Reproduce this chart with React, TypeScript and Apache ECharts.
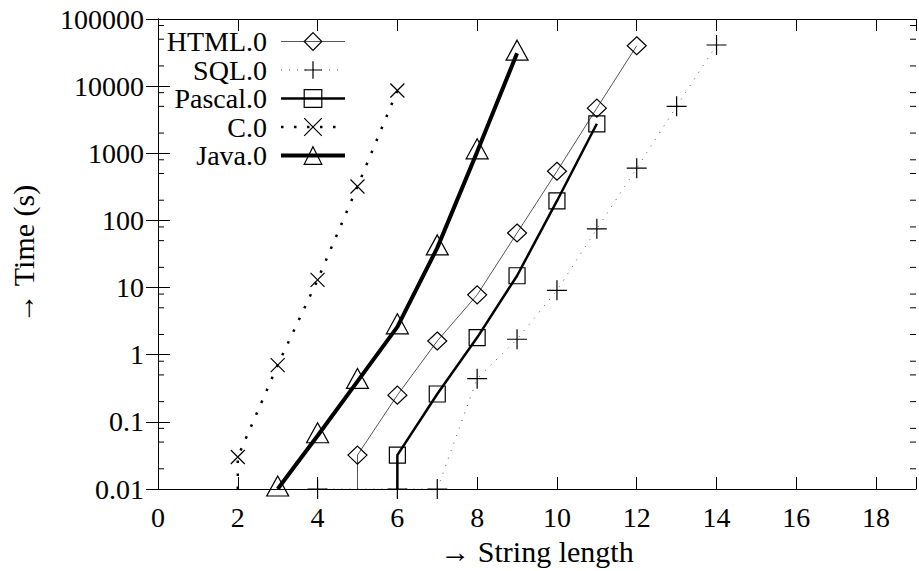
import React, { useEffect, useRef } from 'react';
import * as echarts from 'echarts';

// ---- data ----
const seriesNames = ['HTML.0', 'SQL.0', 'Pascal.0', 'C.0', 'Java.0'];

const htmlLength = [5, 6, 7, 8, 9, 10, 11, 12];
const htmlTime = [0.032, 0.25, 1.6, 7.8, 65, 540, 4700, 40000];

const sqlLength = [4, 6, 7, 8, 9, 10, 11, 12, 13, 14];
const sqlTime = [0.01, 0.01, 0.01, 0.44, 1.7, 9.1, 75, 600, 5000, 41000];

const pascalLength = [6, 7, 8, 9, 10, 11];
const pascalTime = [0.032, 0.26, 1.8, 15, 195, 2750];

const cLength = [2, 3, 4, 5, 6];
const cTime = [0.03, 0.7, 13, 320, 8600];

const javaLength = [3, 4, 5, 6, 7, 8, 9];
const javaTime = [0.01, 0.062, 0.4, 2.6, 39, 1050, 31000];

// series whose curve drops vertically to the bottom of the plot at its first length
const dropsToAxis = [true, false, true, true, false];

const xMin = 0;
const xMax = 19;
const xStep = 2;
const yMin = 0.01;
const yMax = 100000;
const minorMultipliers = [2, 5, 8];

const xTitle = '\u2192 String length';
const yTitle = '\u2192 Time (s)';

// ---- styling ----
const FONT = 'Liberation Serif';
const PLUS = 'path://M0,10L20,10M10,0L10,20';
const CROSS = 'path://M0,0L20,20M0,20L20,0';

const looks: any[] = [
  { symbol: 'diamond', size: [19, 18], offset: [0, 0], line: { width: 1, color: '#555', type: 'solid' } },
  { symbol: PLUS, size: 20, offset: [0, 0], line: { width: 1, color: '#555', type: [1, 7] } },
  { symbol: 'rect', size: 16, offset: [0, 0], line: { width: 2.5, color: '#000', type: 'solid' } },
  { symbol: CROSS, size: 14, offset: [0, 0], line: { width: 2.5, color: '#000', type: [2.5, 10.5] } },
  { symbol: 'triangle', size: [22, 20], offset: [0, -3], line: { width: 4, color: '#000', type: 'solid' } },
];

const allLengths = [htmlLength, sqlLength, pascalLength, cLength, javaLength];
const allTimes = [htmlTime, sqlTime, pascalTime, cTime, javaTime];

function fmtY(v: number) {
  const e = Math.round(Math.log10(v));
  return e < 0 ? v.toFixed(-e) : String(Math.round(v));
}

function buildOption(): any {
  const series = seriesNames.map((name, i) => {
    const data: any[] = allLengths[i].map((x, j) => [x, allTimes[i][j]]);
    if (dropsToAxis[i]) {
      data.unshift({ value: [allLengths[i][0], yMin], symbol: 'none' });
    }
    const lk = looks[i];
    return {
      name,
      type: 'line',
      xAxisIndex: 0,
      yAxisIndex: 0,
      data,
      symbol: lk.symbol,
      symbolSize: lk.size,
      symbolOffset: lk.offset,
      showSymbol: true,
      clip: true,
      z: 2 + i,
      itemStyle: { color: 'rgba(0,0,0,0)', borderColor: '#000', borderWidth: 1.2 },
      lineStyle: { color: lk.line.color, width: lk.line.width, type: lk.line.type },
      emphasis: { disabled: true },
    };
  });

  const axisLine = { show: true, lineStyle: { color: '#000', width: 1 } };

  return {
    animation: false,
    backgroundColor: '#fff',
    textStyle: { fontFamily: FONT },
    grid: { left: 156, top: 19, right: -4, bottom: 81, containLabel: false },
    legend: {
      data: seriesNames.map((name, i) => ({
        name,
        lineStyle: { width: looks[i].line.width, color: looks[i].line.color, type: looks[i].line.type },
        itemStyle: { color: 'rgba(0,0,0,0)', borderColor: '#000', borderWidth: 1.2 },
      })),
      orient: 'vertical',
      align: 'right',
      right: 919 - 347,
      top: 27.5,
      padding: 0,
      itemGap: 0.5,
      itemWidth: 64,
      itemHeight: 22,
      selectedMode: false,
      textStyle: { fontFamily: FONT, fontSize: 28, lineHeight: 26, color: '#000', padding: [0, 9, 0, 0] },
    },
    xAxis: [
      {
        type: 'value',
        min: xMin,
        max: xMax,
        interval: xStep,
        position: 'bottom',
        name: xTitle,
        nameLocation: 'middle',
        nameGap: 47,
        nameTextStyle: { fontFamily: FONT, fontSize: 30, color: '#000' },
        axisLine,
        axisTick: { show: true, inside: true, length: 12, lineStyle: { color: '#000', width: 1 } },
        axisLabel: {
          show: true,
          margin: 14,
          fontFamily: FONT,
          fontSize: 28,
          color: '#000',
          formatter: (v: number) => (v % xStep === 0 ? String(v) : ''),
        },
        splitLine: { show: false },
      },
      {
        type: 'value',
        min: xMin,
        max: xMax,
        interval: xStep,
        position: 'top',
        axisLine,
        axisTick: { show: true, inside: true, length: 12, lineStyle: { color: '#000', width: 1 } },
        axisLabel: { show: false },
        splitLine: { show: false },
      },
    ],
    yAxis: [
      {
        type: 'log',
        logBase: 10,
        min: yMin,
        max: yMax,
        interval: 1,
        position: 'left',
        name: yTitle,
        nameLocation: 'middle',
        nameGap: 120,
        nameRotate: 90,
        nameTextStyle: { fontFamily: FONT, fontSize: 30, color: '#000' },
        axisLine,
        axisTick: { show: true, inside: true, length: 12, lineStyle: { color: '#000', width: 1 } },
        axisLabel: { show: true, margin: 14, fontFamily: FONT, fontSize: 28, color: '#000', formatter: fmtY },
        splitLine: { show: false },
      },
      {
        type: 'log',
        logBase: 10,
        min: yMin,
        max: yMax,
        interval: 1,
        position: 'right',
        axisLine,
        axisTick: { show: true, inside: true, length: 12, lineStyle: { color: '#000', width: 1 } },
        axisLabel: { show: false },
        splitLine: { show: false },
      },
    ],
    series,
  };
}

export default function App() {
  const ref = useRef<HTMLDivElement>(null);
  useEffect(() => {
    if (!ref.current) return;
    const chart = echarts.init(ref.current, null, { renderer: 'svg' });
    chart.setOption(buildOption());
    const left = chart.convertToPixel({ xAxisIndex: 0 }, xMin) as number;
    const right = chart.convertToPixel({ xAxisIndex: 0 }, xMax) as number;
    const minor: any[] = [];
    for (let e = Math.round(Math.log10(yMin)); e < Math.round(Math.log10(yMax)); e++) {
      for (const m of minorMultipliers) {
        const y = chart.convertToPixel({ yAxisIndex: 0 }, m * Math.pow(10, e)) as number;
        minor.push({ type: 'line', silent: true, z: 10, shape: { x1: left, y1: y, x2: left + 6, y2: y }, style: { stroke: '#000', lineWidth: 1 } });
        minor.push({ type: 'line', silent: true, z: 10, shape: { x1: right - 6, y1: y, x2: right, y2: y }, style: { stroke: '#000', lineWidth: 1 } });
      }
    }
    chart.setOption({ graphic: minor });
    return () => chart.dispose();
  }, []);
  return (
    <div
      ref={ref}
      style={{ position: 'fixed', left: 0, top: 0, width: 919, height: 571, background: '#fff' }}
    />
  );
}
